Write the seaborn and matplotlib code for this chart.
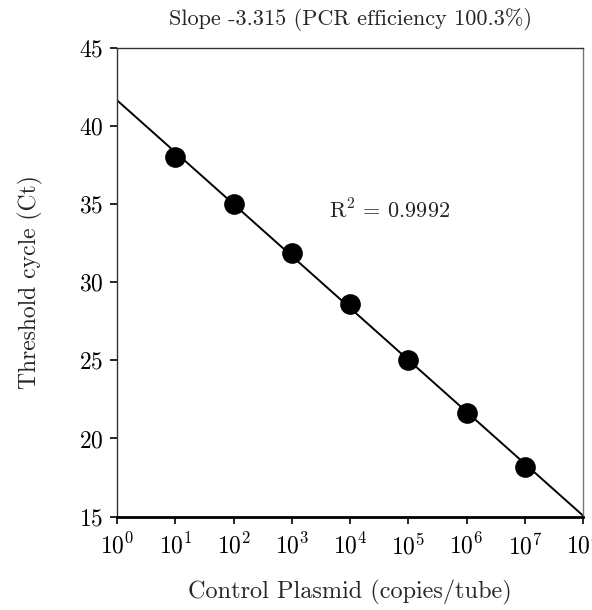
import numpy as np
import pandas as pd
import matplotlib
import matplotlib.pyplot as plt
import matplotlib.ticker as mticker
import seaborn as sns

# standard curve data
copies = [1e1, 1e2, 1e3, 1e4, 1e5, 1e6, 1e7]
ct_values = [38.0, 35.0, 31.88, 28.63, 25.03, 21.65, 18.2]
x_ticks = [1e0, 1e1, 1e2, 1e3, 1e4, 1e5, 1e6, 1e7, 1e8]
y_ticks = [15, 20, 25, 30, 35, 40, 45]

sns.set_style('white')
plt.rcParams['font.family'] = ['cmr10', 'DejaVu Serif']
plt.rcParams['mathtext.fontset'] = 'cm'
plt.rcParams['axes.formatter.use_mathtext'] = True
plt.rcParams['axes.unicode_minus'] = False

df = pd.DataFrame({'copies': copies, 'ct': ct_values})
slope, intercept = np.polyfit(np.log10(df['copies']), df['ct'], 1)
fit_x = np.array([x_ticks[0], x_ticks[-1]])
fit = pd.DataFrame({'copies': fit_x, 'ct': slope * np.log10(fit_x) + intercept})

fig = plt.figure(figsize=(5.92, 6.10), dpi=100)
ax = fig.add_axes([0.198, 0.153, 0.787, 0.769])

sns.lineplot(data=fit, x='copies', y='ct', color='black', linewidth=1.4, ax=ax)
sns.scatterplot(data=df, x='copies', y='ct', color='black', s=190, edgecolor='black', zorder=3, ax=ax)

ax.set_xscale('log')
ax.set_xlim(x_ticks[0], x_ticks[-1])
ax.set_ylim(y_ticks[0], y_ticks[-1])
ax.set_xticks(x_ticks)
ax.xaxis.set_major_formatter(mticker.LogFormatterMathtext())
ax.xaxis.set_minor_locator(mticker.NullLocator())
ax.set_yticks(y_ticks)
ax.tick_params(axis='both', direction='out', length=5, width=1.2, colors='black', labelsize=17,
               bottom=True, left=True, pad=5)
ax.tick_params(axis='x', pad=7)

for side in ['top', 'left']:
    ax.spines[side].set_color('#333333')
    ax.spines[side].set_linewidth(1.0)
ax.spines['right'].set_color('#777777')
ax.spines['right'].set_linewidth(1.0)
ax.spines['bottom'].set_color('black')
ax.spines['bottom'].set_linewidth(2.0)

ax.set_xlabel('Control Plasmid (copies/tube)', fontsize=17.5, labelpad=15)
ax.set_ylabel('Threshold cycle (Ct)', fontsize=17, labelpad=26)
ax.set_title('Slope -3.315 (PCR efficiency 100.3%)', fontsize=16, pad=16)
ax.text(0.455, 0.652, 'R$^2$ = 0.9992', transform=ax.transAxes, fontsize=16, va='center')

fig.savefig('out.png', dpi=100)
